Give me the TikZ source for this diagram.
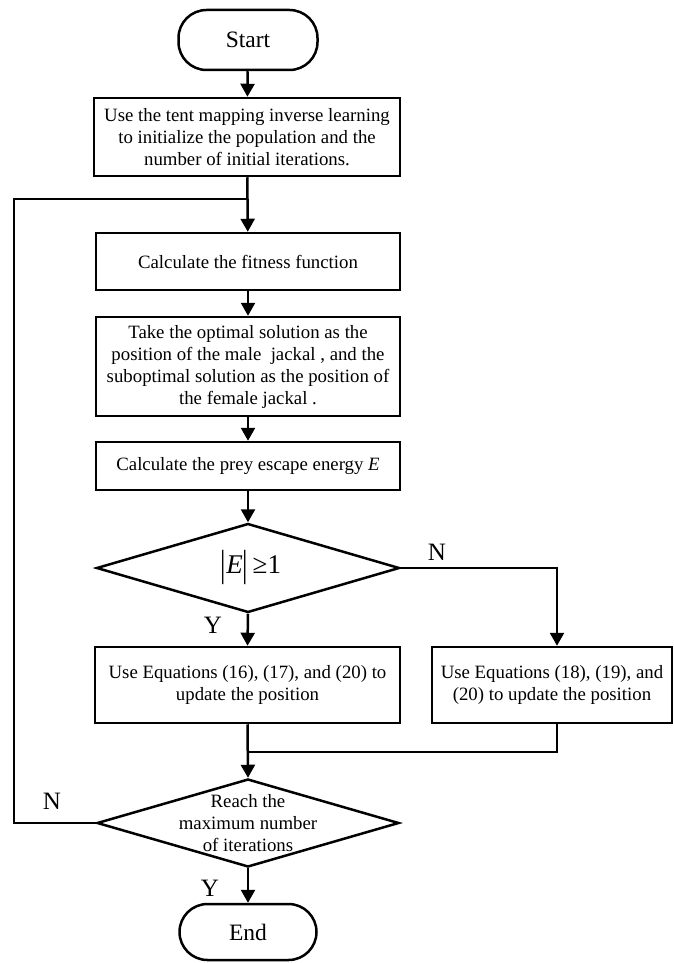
\documentclass[tikz,border=0pt]{standalone}
\usepackage{fontspec}
\usepackage{graphicx}
\setmainfont{Liberation Serif}
\usetikzlibrary{arrows.meta,shapes.geometric}
\newcommand{\tallbar}{\raisebox{-3pt}{\scalebox{1}[1.4]{|}}}
\begin{document}
\begin{tikzpicture}[x=1pt,y=-1pt,
  line width=2.5pt,
  txt/.style={font=\fontsize{18.8}{22}\selectfont, align=center, inner sep=0pt},
  proc/.style={draw, rectangle, txt},
  term/.style={draw, rectangle, rounded corners=28pt, font=\fontsize{23.5}{26}\selectfont, inner sep=0pt},
  dec/.style={draw, diamond, inner sep=0pt},
  arr/.style={-{Triangle[length=13pt,width=14pt]}},
  lab/.style={font=\fontsize{25}{25}\selectfont, inner sep=0pt}]
\useasboundingbox (0,0) rectangle (673,963);

\node[term, minimum width=139, minimum height=60] (start) at (248,40) {Start};
\node[proc, minimum width=306, minimum height=78] (b1) at (247,137)
  {Use the tent mapping inverse learning\\to initialize the population and the\\number of initial iterations.};
\node[proc, minimum width=304, minimum height=57] (b2) at (248,261.5) {Calculate the fitness function};
\node[proc, minimum width=304, minimum height=99] (b3) at (248,366.5)
  {Take the optimal solution as the\\position of the male~ jackal , and the\\suboptimal solution as the position of\\the female jackal .};
\node[proc, minimum width=304, minimum height=48] (b4) at (248,466) {Calculate the prey escape energy \textit{E}};
\node[dec, minimum width=303, minimum height=89] (d1) at (248,568) {};
\node[inner sep=0pt, font=\fontsize{27}{27}\selectfont] (d1t) at (251,567) {\tallbar\textit{E}\tallbar\,≥1};
\node[proc, minimum width=305, minimum height=76] (b5) at (247.5,685)
  {Use Equations (16), (17), and (20) to\\update the position};
\node[proc, minimum width=240, minimum height=76] (b6) at (552,685)
  {Use Equations (18), (19), and\\(20) to update the position};
\node[dec, minimum width=302, minimum height=88] (d2) at (248,823) {};
\node[txt] (d2t) at (248,823) {Reach the\\maximum number\\of iterations};
\node[term, minimum width=137, minimum height=56] (end) at (248,932) {End};

\coordinate (j) at (248,199);
\coordinate (m) at (248,752);

\node[lab] (lN1) at (437,552) {N};
\node[lab] (lY1) at (213,625) {Y};
\node[lab] (lN2) at (52,801) {N};
\node[lab] (lY2) at (210,888) {Y};

\draw[arr] (start) -- (b1);
\draw[arr] (b1) -- (b2);
\draw[arr] (b2) -- (b3);
\draw[arr] (b3) -- (b4);
\draw[arr] (b4) -- (d1.north);
\draw[arr] (d1.south) -- (b5.north);
\draw[arr] (d1.east) -| ([xshift=5pt]b6.north);
\draw[arr] (b5.south) -- (d2.north);
\draw ([xshift=5pt]b6.south) |- (m);
\draw (d2.west) -- ++(-82,0) |- (j);
\draw[arr] (d2.south) -- (end.north);
\end{tikzpicture}
\end{document}
